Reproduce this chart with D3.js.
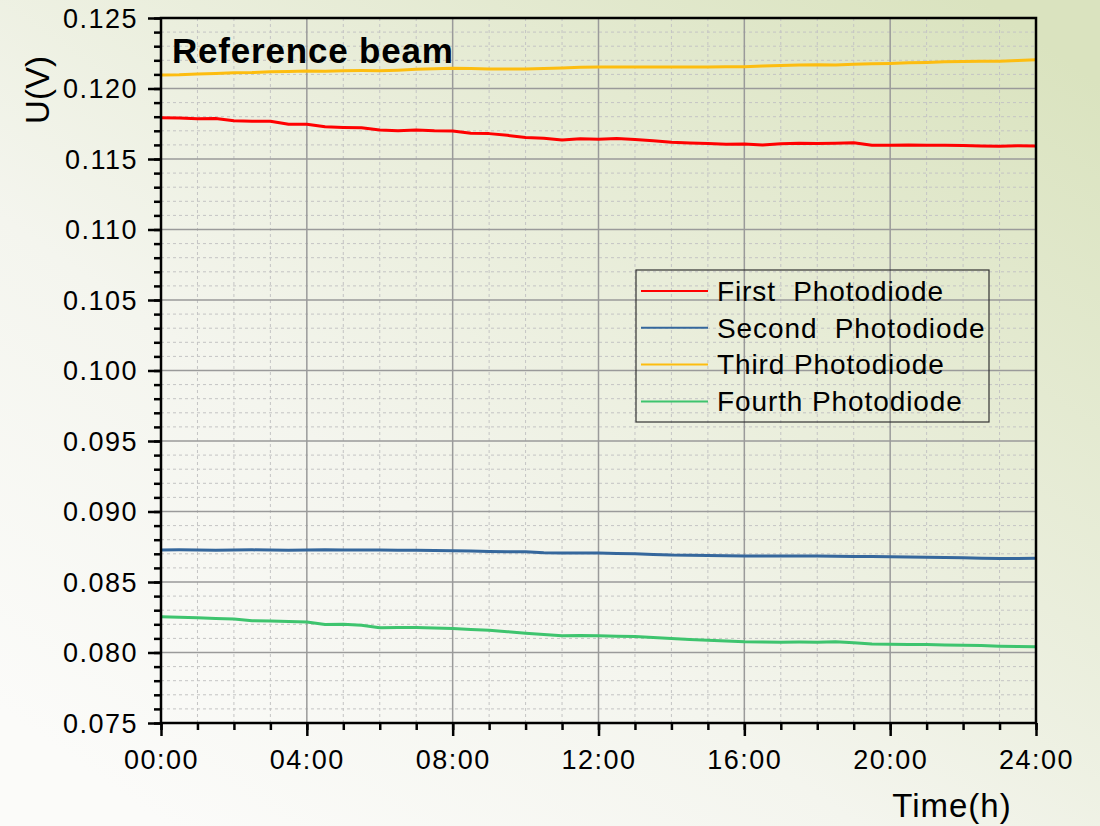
<!DOCTYPE html>
<html>
<head>
<meta charset="utf-8">
<script src="https://cdn.jsdelivr.net/npm/d3@7"></script>
<style>
  body { margin: 0; padding: 0; }
  svg text { font-family: Arial, "Liberation Sans", sans-serif; fill: #000; }
</style>
</head>
<body>
<div id="chart"></div>
<script>
// hours since start (every half hour)
var hours = d3.range(0, 24.5, 0.5);

var firstPD = [
  0.11792, 0.11790, 0.11785, 0.11788, 0.11771, 0.11768, 0.11768, 0.11747, 0.11747, 0.11728,
  0.11724, 0.11722, 0.11705, 0.11700, 0.11705, 0.11700, 0.11698, 0.11682, 0.11680, 0.11668,
  0.11653, 0.11647, 0.11634, 0.11643, 0.11640, 0.11645, 0.11638, 0.11630, 0.11619, 0.11614,
  0.11610, 0.11605, 0.11607, 0.11600, 0.11609, 0.11612, 0.11610, 0.11612, 0.11616, 0.11598,
  0.11598, 0.11600, 0.11598, 0.11597, 0.11596, 0.11592, 0.11590, 0.11594, 0.11593
];
var secondPD = [
  0.08727, 0.08728, 0.08727, 0.08726, 0.08727, 0.08728, 0.08727, 0.08726, 0.08727, 0.08729,
  0.08727, 0.08727, 0.08727, 0.08726, 0.08725, 0.08724, 0.08722, 0.08720, 0.08717, 0.08715,
  0.08714, 0.08708, 0.08706, 0.08705, 0.08705, 0.08703, 0.08700, 0.08695, 0.08691, 0.08690,
  0.08688, 0.08686, 0.08684, 0.08685, 0.08685, 0.08684, 0.08684, 0.08682, 0.08680, 0.08680,
  0.08679, 0.08677, 0.08676, 0.08674, 0.08672, 0.08668, 0.08666, 0.08667, 0.08668
];
var thirdPD = [
  0.12095, 0.12097, 0.12102, 0.12106, 0.12111, 0.12113, 0.12118, 0.12121, 0.12124, 0.12123,
  0.12126, 0.12127, 0.12126, 0.12130, 0.12136, 0.12140, 0.12143, 0.12141, 0.12139, 0.12138,
  0.12138, 0.12142, 0.12146, 0.12150, 0.12153, 0.12152, 0.12153, 0.12152, 0.12153, 0.12152,
  0.12153, 0.12154, 0.12155, 0.12160, 0.12163, 0.12166, 0.12168, 0.12167, 0.12172, 0.12176,
  0.12178, 0.12182, 0.12185, 0.12189, 0.12192, 0.12193, 0.12194, 0.12198, 0.12204
];
var fourthPD = [
  0.08253, 0.08250, 0.08246, 0.08241, 0.08237, 0.08226, 0.08224, 0.08220, 0.08217, 0.08199,
  0.08201, 0.08194, 0.08175, 0.08178, 0.08177, 0.08174, 0.08170, 0.08163, 0.08158, 0.08148,
  0.08137, 0.08128, 0.08118, 0.08120, 0.08118, 0.08116, 0.08113, 0.08106, 0.08099, 0.08093,
  0.08087, 0.08082, 0.08077, 0.08075, 0.08073, 0.08074, 0.08073, 0.08076, 0.08070, 0.08060,
  0.08059, 0.08057, 0.08056, 0.08054, 0.08052, 0.08049, 0.08045, 0.08043, 0.08040
];

var seriesNames  = ["First  Photodiode", "Second  Photodiode", "Third Photodiode", "Fourth Photodiode"];
var seriesColors = ["#ff0000", "#35679c", "#fdbd10", "#3ec46e"];
var seriesValues = [firstPD, secondPD, thirdPD, fourthPD];

var xTicks = d3.range(0, 25, 4);
var yTicks = d3.range(0.075, 0.1251, 0.005);

var W = 1100, H = 826;
var M = {left: 161, right: 1036, top: 18, bottom: 723};

var svg = d3.select("#chart").append("svg")
    .attr("width", W)
    .attr("height", H);

// background gradient
var defs = svg.append("defs");
var grad = defs.append("linearGradient")
    .attr("id", "bg")
    .attr("x1", 0.15).attr("y1", 1)
    .attr("x2", 1).attr("y2", 0.1);
grad.append("stop").attr("offset", 0).attr("stop-color", "#fbfbf9");
grad.append("stop").attr("offset", 0.35).attr("stop-color", "#f4f5ee");
grad.append("stop").attr("offset", 1).attr("stop-color", "#dae3bf");
svg.append("rect")
    .attr("width", W).attr("height", H)
    .attr("fill", "url(#bg)");

var x = d3.scaleLinear().domain([0, 24]).range([M.left, M.right]);
var y = d3.scaleLinear().domain([0.075, 0.125]).range([M.bottom, M.top]);

// grid (minor dashed, major solid)
var grid = svg.append("g");
grid.selectAll(".vminor")
    .data(d3.range(0, 25, 1).filter(function(d){ return d % 4 != 0; }))
  .enter().append("line")
    .attr("x1", function(d){ return x(d); }).attr("x2", function(d){ return x(d); })
    .attr("y1", M.top).attr("y2", M.bottom)
    .attr("stroke", "#c4c4c4").attr("stroke-width", 1).attr("stroke-dasharray", "3,3");
grid.selectAll(".hminor")
    .data(d3.range(76, 125, 1).filter(function(d){ return d % 5 != 0; }))
  .enter().append("line")
    .attr("x1", M.left).attr("x2", M.right)
    .attr("y1", function(d){ return y(d / 1000); }).attr("y2", function(d){ return y(d / 1000); })
    .attr("stroke", "#c4c4c4").attr("stroke-width", 1).attr("stroke-dasharray", "3,3");
grid.selectAll(".vmajor")
    .data(xTicks.slice(1, -1))
  .enter().append("line")
    .attr("x1", function(d){ return x(d); }).attr("x2", function(d){ return x(d); })
    .attr("y1", M.top).attr("y2", M.bottom)
    .attr("stroke", "#9a9a9a").attr("stroke-width", 1.5);
grid.selectAll(".hmajor")
    .data(yTicks.slice(1, -1))
  .enter().append("line")
    .attr("x1", M.left).attr("x2", M.right)
    .attr("y1", function(d){ return y(d); }).attr("y2", function(d){ return y(d); })
    .attr("stroke", "#9a9a9a").attr("stroke-width", 1.5);

// data lines
var line = d3.line()
    .x(function(d, i){ return x(hours[i]); })
    .y(function(d){ return y(d); });
svg.selectAll(".series")
    .data(seriesValues)
  .enter().append("path")
    .attr("class", "series")
    .attr("d", line)
    .attr("fill", "none")
    .attr("stroke", function(d, i){ return seriesColors[i]; })
    .attr("stroke-width", 3)
    .attr("stroke-linejoin", "round");

// minor ticks
var yMinorAxis = d3.axisLeft(y)
    .tickValues(d3.range(75, 126, 1).map(function(d){ return d / 1000; }))
    .tickSize(7).tickFormat("");
var xMinorAxis = d3.axisBottom(x)
    .tickValues(d3.range(0, 25, 1))
    .tickSize(7).tickFormat("");
svg.append("g").attr("transform", "translate(" + M.left + ",0)").call(yMinorAxis);
svg.append("g").attr("transform", "translate(0," + M.bottom + ")").call(xMinorAxis);

// major axes
var yAxis = d3.axisLeft(y)
    .tickValues(yTicks)
    .tickSize(13).tickPadding(10)
    .tickFormat(d3.format(".3f"));
var xAxis = d3.axisBottom(x)
    .tickValues(xTicks)
    .tickSize(13).tickPadding(14)
    .tickFormat(function(d){ return d3.format("02d")(d) + ":00"; });
var gy = svg.append("g").attr("transform", "translate(" + M.left + ",0)").call(yAxis);
var gx = svg.append("g").attr("transform", "translate(0," + M.bottom + ")").call(xAxis);

svg.selectAll(".domain").remove();
svg.selectAll(".tick line").attr("stroke", "#000").attr("stroke-width", 2.5);
gy.selectAll("text")
    .style("font-size", "27px").style("letter-spacing", "1.5px")
    .attr("dy", "0.35em");
gx.selectAll("text")
    .style("font-size", "27px").style("letter-spacing", "1.5px")
    .attr("dy", "0.71em");

// frame
svg.append("rect")
    .attr("x", M.left).attr("y", M.top)
    .attr("width", M.right - M.left).attr("height", M.bottom - M.top)
    .attr("fill", "none").attr("stroke", "#000").attr("stroke-width", 2.5);

// titles
svg.append("text")
    .attr("x", 172).attr("y", 63)
    .style("font-size", "35px").style("font-weight", "bold").style("letter-spacing", "0.8px")
    .text("Reference beam");
svg.append("text")
    .attr("transform", "translate(49,90) rotate(-90)")
    .attr("text-anchor", "middle")
    .style("font-size", "33px")
    .text("U(V)");
svg.append("text")
    .attr("x", 952).attr("y", 817)
    .attr("text-anchor", "middle")
    .style("font-size", "33px").style("letter-spacing", "1px")
    .text("Time(h)");

// legend
var legend = svg.append("g");
legend.append("rect")
    .attr("x", 636).attr("y", 270)
    .attr("width", 353).attr("height", 152)
    .attr("fill", "none").attr("stroke", "#333").attr("stroke-width", 1.2);
var rows = legend.selectAll(".row")
    .data(seriesNames)
  .enter().append("g")
    .attr("transform", function(d, i){ return "translate(0," + (291 + i * 36.8) + ")"; });
rows.append("line")
    .attr("x1", 641).attr("x2", 708)
    .attr("stroke", function(d, i){ return seriesColors[i]; })
    .attr("stroke-width", 2);
rows.append("text")
    .attr("x", 717).attr("dy", "0.35em")
    .style("font-size", "28px").style("letter-spacing", "0.9px")
    .style("white-space", "pre")
    .text(function(d){ return d; });
</script>
</body>
</html>
